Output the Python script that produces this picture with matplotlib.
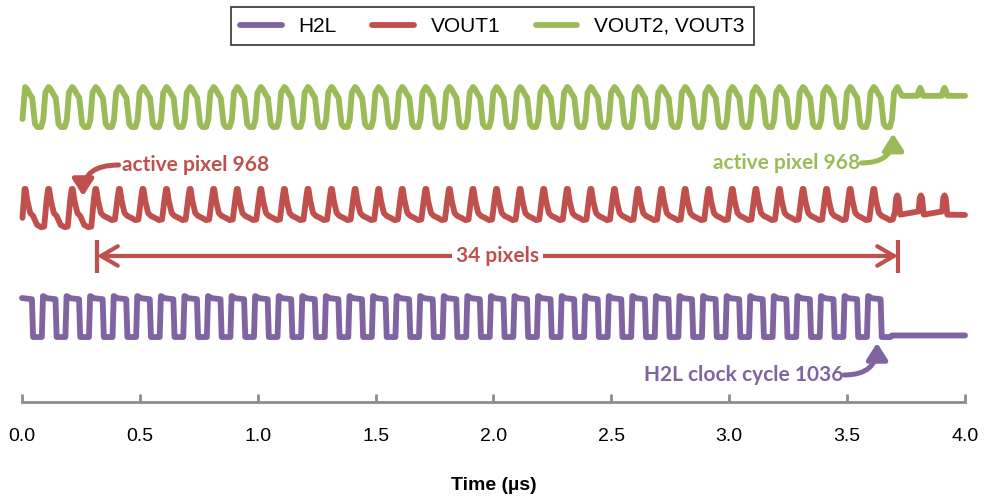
import matplotlib
matplotlib.use("Agg")
import matplotlib.pyplot as plt
from matplotlib.lines import Line2D
from matplotlib.ticker import FormatStrFormatter

PURPLE = "#8064A2"
RED = "#C0504D"
GREEN = "#9BBB59"

# times (us)
green_peaks = [0.013, 0.113, 0.213, 0.313, 0.413, 0.513, 0.613, 0.713, 0.813, 0.913,
               1.013, 1.113, 1.213, 1.313, 1.413, 1.513, 1.613, 1.713, 1.813, 1.913,
               2.013, 2.113, 2.213, 2.313, 2.413, 2.513, 2.613, 2.713, 2.813, 2.913,
               3.013, 3.113, 3.213, 3.313, 3.413, 3.513, 3.613, 3.713]
green_bumps = [3.810, 3.913]

red_peaks = [0.013, 0.113, 0.213, 0.313, 0.413, 0.513, 0.613, 0.713, 0.813, 0.913,
             1.013, 1.113, 1.213, 1.313, 1.413, 1.513, 1.613, 1.713, 1.813, 1.913,
             2.013, 2.113, 2.213, 2.313, 2.413, 2.513, 2.613, 2.713, 2.813, 2.913,
             3.013, 3.113, 3.213, 3.313, 3.413, 3.513, 3.613]
red_trough = [-0.22, -0.22, -0.22] + [0.0] * 34
red_bumps = [3.713, 3.813, 3.913]

h2l_falls = [0.044, 0.144, 0.244, 0.344, 0.444, 0.544, 0.644, 0.744, 0.844, 0.944,
             1.044, 1.144, 1.244, 1.344, 1.444, 1.544, 1.644, 1.744, 1.844, 1.944,
             2.044, 2.144, 2.244, 2.344, 2.444, 2.544, 2.644, 2.744, 2.844, 2.944,
             3.044, 3.144, 3.244, 3.344, 3.444, 3.544, 3.644]

# vertical placement of each trace (arbitrary units, 0..10)
green_lo, green_hi = 8.04, 9.21
red_lo, red_hi = 5.29, 6.23
h2l_lo, h2l_hi = 1.90, 3.04

# one cycle of each waveform, relative to its peak
green_shape_t = [0.0, 0.007, 0.022, 0.030, 0.042, 0.052, 0.068, 0.077, 0.086]
green_shape_y = [1.0, 0.96, 0.80, 0.73, 0.08, 0.0, 0.0, 0.18, 0.86]
red_shape_t = [-0.002, 0.002, 0.010, 0.022, 0.034, 0.051, 0.068, 0.081, 0.092]
red_shape_y = [1.0, 1.0, 0.62, 0.25, 0.16, 0.10, 0.03, 0.05, 0.70]


def scale(vals, lo, hi):
    return [lo + v * (hi - lo) for v in vals]


def green_wave():
    t, y = [0.002], [0.2]
    for p in green_peaks[:-1]:
        for dt, v in zip(green_shape_t, green_shape_y):
            t.append(p + dt)
            y.append(v)
    p = green_peaks[-1]
    t += [p, p + 0.007, p + 0.02]
    y += [1.0, 0.92, 0.78]
    for b in green_bumps:
        t += [b - 0.012, b - 0.005, b, b + 0.005, b + 0.012]
        y += [0.78, 0.92, 0.98, 0.92, 0.78]
    t.append(4.0)
    y.append(0.78)
    return t, scale(y, green_lo, green_hi)


def red_wave():
    t, y = [0.002], [0.1]
    for p, dip in zip(red_peaks, red_trough):
        for i, (dt, v) in enumerate(zip(red_shape_t, red_shape_y)):
            if p == red_peaks[-1] and i == len(red_shape_t) - 1:
                break
            if 5 <= i <= 7:
                v += dip
            t.append(p + dt)
            y.append(v)
    for b in red_bumps:
        t += [b - 0.010, b - 0.005, b, b + 0.005, b + 0.012]
        y += [0.30, 0.72, 0.80, 0.72, 0.20]
    t.append(4.0)
    y.append(0.19)
    return t, scale(y, red_lo, red_hi)


def h2l_wave():
    t, y = [0.0], [1.0]
    for i, f in enumerate(h2l_falls):
        t += [f - 0.002, f + 0.003, f + 0.040]
        y += [0.97, 0.0, 0.0]
        if i < len(h2l_falls) - 1:
            t += [f + 0.045, f + 0.050, f + 0.056]
            y += [1.05, 1.04, 1.0]
        else:
            t += [f + 0.046]
            y += [0.04]
    t.append(4.0)
    y.append(0.04)
    return t, scale(y, h2l_lo, h2l_hi)


plt.rcParams["font.family"] = ["Liberation Sans", "DejaVu Sans"]

fig = plt.figure(figsize=(9.87, 4.97), dpi=100)
ax = fig.add_axes([22 / 987, 95 / 497, 943 / 987, 342 / 497])

line_kw = dict(lw=4.2, solid_joinstyle="round", solid_capstyle="round", clip_on=False)
ax.plot(*green_wave(), color=GREEN, **line_kw)
ax.plot(*red_wave(), color=RED, **line_kw)
ax.plot(*h2l_wave(), color=PURPLE, **line_kw)

ax.set_xlim(0, 4)
ax.set_ylim(0, 10)
ax.set_yticks([])
for s in ["top", "left", "right"]:
    ax.spines[s].set_visible(False)
ax.spines["bottom"].set_color("#8c8c8c")
ax.spines["bottom"].set_linewidth(2)
ax.set_xticks([0, 0.5, 1.0, 1.5, 2.0, 2.5, 3.0, 3.5, 4.0])
ax.xaxis.set_major_formatter(FormatStrFormatter("%.1f"))
ax.tick_params(axis="x", direction="in", length=6, width=2, color="#8c8c8c",
               pad=19, labelsize=14)
ax.set_xlabel("Time (µs)", fontsize=14, fontweight="bold", labelpad=23)

# annotations
note_font = dict(family=["Lato", "DejaVu Sans"], fontweight="bold", fontsize=15)
arrow_head = "-|>,head_length=0.55,head_width=0.35"

ax.text(0.424, 6.93, "active pixel 968", color=RED, ha="left", va="center", **note_font)
ax.annotate("", xy=(0.259, 6.02), xytext=(0.410, 6.93),
            arrowprops=dict(arrowstyle=arrow_head, color=RED, lw=3.6, shrinkA=0, shrinkB=0,
                            mutation_scale=18,
                            connectionstyle="angle3,angleA=0,angleB=90"))

ax.text(3.555, 6.99, "active pixel 968", color=GREEN, ha="right", va="center", **note_font)
ax.annotate("", xy=(3.695, 7.85), xytext=(3.560, 6.99),
            arrowprops=dict(arrowstyle=arrow_head, color=GREEN, lw=3.6, shrinkA=0, shrinkB=0,
                            mutation_scale=18,
                            connectionstyle="angle3,angleA=0,angleB=90"))

ax.text(3.483, 0.79, "H2L clock cycle 1036", color=PURPLE, ha="right", va="center", **note_font)
ax.annotate("", xy=(3.627, 1.73), xytext=(3.488, 0.79),
            arrowprops=dict(arrowstyle=arrow_head, color=PURPLE, lw=3.6, shrinkA=0, shrinkB=0,
                            mutation_scale=18,
                            connectionstyle="angle3,angleA=0,angleB=90"))

# 34 pixels span
span_start, span_end, span_y = 0.318, 3.716, 4.27
ax.annotate("", xy=(span_start, span_y), xytext=(span_end, span_y),
            arrowprops=dict(arrowstyle="<->,head_length=0.6,head_width=0.35", color=RED,
                            lw=3.0, shrinkA=0, shrinkB=0, mutation_scale=20))
ax.vlines([span_start, span_end], 3.77, 4.74, color=RED, lw=3.0)
ax.text((span_start + span_end) / 2, span_y, "34 pixels", color=RED, ha="center",
        va="center", zorder=5, bbox=dict(fc="white", ec="none", pad=3), **note_font)

handles = [Line2D([], [], color=c, lw=4.2, solid_capstyle="round")
           for c in (PURPLE, RED, GREEN)]
leg = fig.legend(handles, ["H2L", "VOUT1", "VOUT2, VOUT3"], loc="center",
                 bbox_to_anchor=(0.499, 0.947), ncol=3, fancybox=False,
                 edgecolor="black", fontsize=15, handlelength=2.0, columnspacing=1.7,
                 borderpad=0.45)
leg.get_frame().set_linewidth(1.2)

fig.savefig("out.png", dpi=100)
